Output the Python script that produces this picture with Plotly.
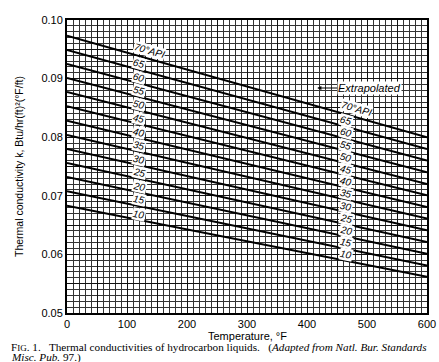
import plotly.graph_objects as go
import numpy as np

# Data: thermal conductivity at 0, 400 and 600 °F
temps = [0, 400, 600]
api = [10, 15, 20, 25, 30, 35, 40, 45, 50, 55, 60, 65, 70]
k_0 = [0.0683, 0.0708, 0.0732, 0.0756, 0.0780, 0.0804, 0.0828, 0.0853, 0.0877, 0.0901, 0.0925, 0.0949, 0.0973]
k_400 = [0.0602, 0.0624, 0.0645, 0.0666, 0.0687, 0.0709, 0.0730, 0.0751, 0.0773, 0.0794, 0.0815, 0.0836, 0.0858]
k_600 = [0.0562, 0.0581, 0.0601, 0.0621, 0.0641, 0.0661, 0.0681, 0.0701, 0.0720, 0.0740, 0.0760, 0.0780, 0.0800]

x_ticks = [0, 50, 100, 150, 200, 250, 300, 350, 400, 450, 500, 550, 600]
x_text = ["0", "", "100", "", "200", "", "300", "", "400", "", "500", "", "600"]
y_ticks = [0.05, 0.055, 0.06, 0.065, 0.07, 0.075, 0.08, 0.085, 0.09, 0.095, 0.10]
y_text = ["0.05", "", "0.06", "", "0.07", "", "0.08", "", "0.09", "", "0.10"]

label_T_left = 120
label_T_right = 465
extrap_T = 417
extrap_k = 0.0884

X0, X1, Y0, Y1 = 0, 600, 0.05, 0.10
L, R, T, B = 67, 12, 20, 49
W, H = 439, 362
pw, ph = W - L - R, H - T - B

FONT = "Liberation Sans, Arial"
SERIF = "Liberation Serif, Times New Roman"

fig = go.Figure()
for i, a in enumerate(api):
    ks = [k_0[i], k_400[i], k_600[i]]
    fig.add_trace(go.Scatter(x=temps, y=ks, mode="lines",
                             line=dict(color="black", width=2),
                             showlegend=False, hoverinfo="skip"))
for i, a in enumerate(api):
    ks = [k_0[i], k_400[i], k_600[i]]
    for tl in (label_T_left, label_T_right):
        kv = float(np.interp(tl, temps, ks))
        seg = 0 if tl <= 400 else 1
        dk = (ks[seg + 1] - ks[seg]) / (Y1 - Y0) * ph
        dx = (temps[seg + 1] - temps[seg]) / (X1 - X0) * pw
        ang = float(np.degrees(np.arctan2(-dk, dx)))
        txt = "70°API" if a == 70 else str(a)
        fig.add_annotation(x=tl, y=kv, text=f"<i>{txt}</i>", showarrow=False,
                           textangle=ang, yshift=6, xshift=(10 if a == 70 else 0),
                           bgcolor="white", borderpad=0,
                           font=dict(family=FONT, size=10, color="black"))

fig.add_annotation(x=extrap_T, y=extrap_k, text="<i>Extrapolated</i>", showarrow=True,
                   ax=20, ay=0, axref="pixel", ayref="pixel", xanchor="left",
                   arrowhead=2, arrowsize=0.7, arrowwidth=1.2, arrowcolor="black",
                   standoff=0, startstandoff=0,
                   font=dict(family=FONT, size=11, color="black"),
                   bgcolor="white", borderpad=0)

fig.update_xaxes(range=[X0, X1], tickvals=x_ticks, ticktext=x_text, automargin=False,
                 showgrid=True, gridcolor="#111", gridwidth=1.1,
                 minor=dict(dtick=10, showgrid=True, gridcolor="#333", gridwidth=0.9),
                 showline=True, linecolor="black", linewidth=2, mirror=True,
                 ticks="", ticklen=0, zeroline=False,
                 tickfont=dict(family=FONT, size=11, color="black"))
fig.update_yaxes(range=[Y0, Y1], tickvals=y_ticks, ticktext=y_text, automargin=False,
                 showgrid=True, gridcolor="#111", gridwidth=1.1,
                 minor=dict(dtick=0.001, showgrid=True, gridcolor="#333", gridwidth=0.9),
                 showline=True, linecolor="black", linewidth=2, mirror=True,
                 ticks="", ticklen=0, zeroline=False,
                 tickfont=dict(family=FONT, size=11, color="black"),
                 title=dict(text="Thermal conductivity k, Btu/hr(ft)²(°F/ft)", standoff=16,
                            font=dict(family=FONT, size=10.5, color="black")))

fig.add_annotation(xref="paper", yref="paper", x=0.5, y=-(336 - 313) / ph, xanchor="center", yanchor="middle",
                   showarrow=False, text="Temperature, °F",
                   font=dict(family=FONT, size=11, color="black"))

fig.add_annotation(xref="paper", yref="paper", x=(9 - L) / pw, y=-(347.5 - 313) / ph, xanchor="left", yanchor="middle",
                   align="left", showarrow=False,
                   text="F<span style='font-size:9px'>IG</span>. 1.   Thermal conductivities of hydrocarbon liquids.   "
                        "(<i>Adapted from Natl. Bur. Standards</i>",
                   font=dict(family=SERIF, size=11.2, color="black"))
fig.add_annotation(xref="paper", yref="paper", x=(9 - L) / pw, y=-(357.5 - 313) / ph, xanchor="left", yanchor="middle",
                   align="left", showarrow=False,
                   text="<i>Misc. Pub.</i> 97.)",
                   font=dict(family=SERIF, size=11.2, color="black"))

fig.update_layout(width=W, height=H, margin=dict(l=L, r=R, t=T, b=B),
                  paper_bgcolor="white", plot_bgcolor="white")
fig.write_html("out.html", config={"displayModeBar": False},
               post_script="document.body.style.margin='0';document.body.style.overflow='hidden';")
